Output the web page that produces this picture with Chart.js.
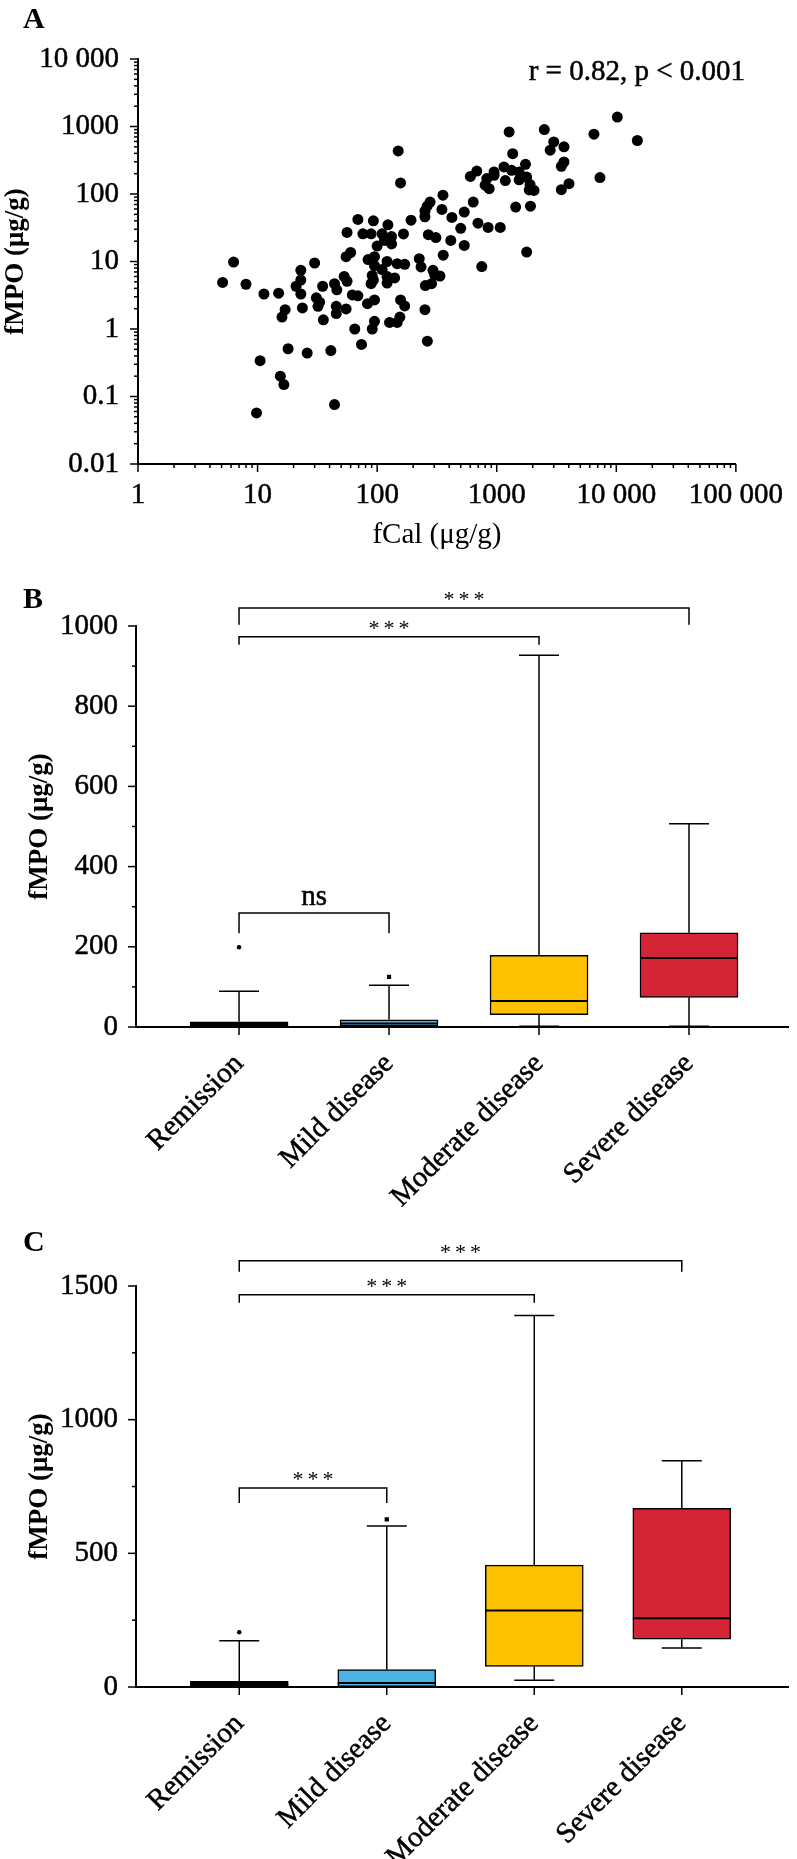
<!DOCTYPE html>
<html><head><meta charset="utf-8">
<script src="https://cdn.jsdelivr.net/npm/chart.js@4.4.1/dist/chart.umd.min.js"></script>
<style>
html,body{margin:0;padding:0;background:#fff;}
#wrap{position:relative;width:797px;height:1859px;background:#fff;}
canvas{position:absolute;left:0;}
</style></head><body>
<div id="wrap">
<canvas id="cA" width="797" height="560" style="top:0;width:797px;height:560px"></canvas>
<canvas id="cB" width="797" height="650" style="top:560px;width:797px;height:650px"></canvas>
<canvas id="cC" width="797" height="649" style="top:1210px;width:797px;height:649px"></canvas>
</div>
<script>
// ---------- Panel A data (fCal vs fMPO, µg/g) ----------
const fCal = [10200,15000,6500,7300,2500,1270,3000,3650,2800,3650,3470,4020,3470,1360,1740,1150,1333,1540,950,1780,
  1540,1180,950,826,681,602,800,865,1900,1870,2050,636,1440,1915,535,697,847,1070,1780,750,
  150,157,355,277,262,251,251,348,422,500,192,166,268,310,357,413,535,69,93,123,
  56,76,89,110,132,132,100,115,55,60,84,95,95,121,147,170,225,233,293,303,
  335,253,285,110,121,140,91,93,89,30,23,23,21,35,44,53,6.3,5.1,8.0,11.3,
  15,157,95,62,69,31,46,23,17,16,23.7,33,32,35.5,45.5,45.5,55,56,83,65,
  91,95,74,127,147,155,170,121,251,263,18,26,41,10.5,15.5,16.6,9.8,44];
const fMPO = [1380,620,770,175,900,830,590,500,445,298,257,142,116,396,275,252,224,212,212,178,
  162,158,189,169,219,182,135,120,138,115,113,76,64,66,54,37,32,32,13.8,8.4,
  434,146,96,76,66,56,46,59,45,31,41,25.6,25,22.6,12.4,20.5,17.3,42,40,35,
  27,25.7,25.7,25.7,23.4,18.2,16.9,20.5,11.8,13.6,10.7,11.8,8.7,10,9.3,9.1,11,8.3,7.4,6.3,
  6.1,4.4,4.7,7.6,6.0,5.7,6.2,5.3,4.7,9.5,7.4,5.3,4.3,4.3,4.7,6.0,9.8,4.9,4.6,3.3,
  3.4,2.7,2.7,3.2,3.1,2.9,3.8,3.3,1.93,1.5,2.05,2.5,2.17,1.37,2.17,1.69,1.98,5.1,2.37,1.0,
  1.0,1.3,0.59,1.25,1.25,1.5,2.2,4.8,1.93,0.66,0.51,0.44,0.48,0.34,0.2,0.15,0.057,0.076];
const logTicksX = [1,10,100,1000,10000,100000];
const logLabelsX = ['1','10','100','1000','10 000','100 000'];
const logTicksY = [0.01,0.1,1,10,100,1000,10000];
const logLabelsY = ['0.01','0.1','1','10','100','1000','10 000'];

// ---------- Panels B and C (box plots) ----------
const categories = ['Remission','Mild disease','Moderate disease','Severe disease'];
const boxColors = ['#000000','#4DB3E6','#FDC100','#D42536'];

const bMin    = [0, 0, 2, 2];
const bQ1     = [1, 2, 31, 74];
const bMedian = [5, 9, 65, 172];
const bQ3     = [13, 18, 179, 235];
const bMax    = [89, 104, 927, 507];
const bOutlierGroup = [0, 1];
const bOutlierValue = [199, 125];
const bTicks = [0,200,400,600,800,1000];
const bMinorTicks = [100,300,500,700,900];
const bBracketFrom = [0,0,0], bBracketTo = [3,2,1];
const bBracketY = [1045,973,284], bBracketEnd = [1003,953,234];
const bBracketLabel = ['***','***','ns'];

const cMin    = [0, 0, 25, 146];
const cQ1     = [1, 1, 77, 179];
const cMedian = [8, 15, 286, 257];
const cQ3     = [21, 65, 456, 668];
const cMax    = [173, 602, 1390, 846];
const cOutlierGroup = [0, 1];
const cOutlierValue = [205, 627];
const cTicks = [0,500,1000,1500];
const cMinorTicks = [250,750,1250];
const cBracketFrom = [0,0,0], cBracketTo = [3,2,1];
const cBracketY = [1594,1467,744], cBracketEnd = [1553,1437,688];
const cBracketLabel = ['***','***','***'];

// ---------- helpers ----------
const SERIF = '"Liberation Serif", "Times New Roman", "DejaVu Serif", serif';
Chart.defaults.font.family = SERIF;
Chart.defaults.color = '#000';
const TICK_FONT = {size:29};
const STROKE = 0.5;

function seg(ctx,x1,y1,x2,y2){ctx.beginPath();ctx.moveTo(x1,y1);ctx.lineTo(x2,y2);ctx.stroke();}
function decadeMinors(majors){const out=[];for(let i=0;i<majors.length-1;i++){for(let m=2;m<=9;m++)out.push(majors[i]*m);}return out;}

function tickPlugin(spec){
  return {id:'tickMarks', afterDraw(chart){
    const {ctx, chartArea:a, scales:{x,y}} = chart;
    ctx.save(); ctx.strokeStyle='#000'; ctx.lineWidth=1.5;
    (spec.yMajor||[]).forEach(v=>{const p=y.getPixelForValue(v); seg(ctx,a.left-8,p,a.left,p);});
    (spec.yMinor||[]).forEach(v=>{const p=y.getPixelForValue(v); seg(ctx,a.left-4,p,a.left,p);});
    (spec.xMajor||[]).forEach(v=>{const p=x.getPixelForValue(v); seg(ctx,p,a.bottom,p,a.bottom+8);});
    (spec.xMinor||[]).forEach(v=>{const p=x.getPixelForValue(v); seg(ctx,p,a.bottom,p,a.bottom+4);});
    ctx.restore();
  }};
}
function textPlugin(items){
  return {id:'panelText', afterDraw(chart){
    const ctx=chart.ctx; ctx.save(); ctx.fillStyle='#000'; ctx.strokeStyle='#000'; ctx.textBaseline='alphabetic';
    items.forEach(t=>{ctx.font=t.font; ctx.textAlign=t.align||'left'; ctx.fillText(t.text,t.x,t.y);
      if(t.stroke){ctx.lineWidth=t.stroke; ctx.strokeText(t.text,t.x,t.y);}});
    ctx.restore();
  }};
}
function boxPlugin(st){
  return {id:'boxWhiskers', afterDatasetsDraw(chart){
    const {ctx, scales:{x,y}} = chart;
    ctx.save(); ctx.strokeStyle='#000';
    st.med.forEach((m,i)=>{
      const cx=x.getPixelForValue(i), half=49, cap=20;
      const pMax=y.getPixelForValue(st.max[i]), pMin=y.getPixelForValue(st.min[i]);
      ctx.lineWidth=1.5;
      seg(ctx,cx,y.getPixelForValue(st.q3[i]),cx,pMax);
      seg(ctx,cx,y.getPixelForValue(st.q1[i]),cx,pMin);
      seg(ctx,cx-cap,pMax,cx+cap,pMax);
      seg(ctx,cx-cap,pMin,cx+cap,pMin);
      ctx.lineWidth=2;
      const pm=y.getPixelForValue(m); seg(ctx,cx-half,pm,cx+half,pm);
    });
    ctx.restore();
  }};
}
function bracketPlugin(br){
  return {id:'brackets', afterDraw(chart){
    const {ctx, scales:{x,y}} = chart;
    ctx.save(); ctx.strokeStyle='#000'; ctx.fillStyle='#000'; ctx.lineWidth=1.5; ctx.textAlign='center';
    br.from.forEach((f,i)=>{
      const x1=x.getPixelForValue(f), x2=x.getPixelForValue(br.to[i]);
      const yl=y.getPixelForValue(br.y[i]), ye=y.getPixelForValue(br.end[i]);
      ctx.beginPath(); ctx.moveTo(x1,ye); ctx.lineTo(x1,yl); ctx.lineTo(x2,yl); ctx.lineTo(x2,ye); ctx.stroke();
      const lab=br.label[i], cx=(x1+x2)/2;
      if(lab==='ns'){ctx.letterSpacing='0px'; ctx.font='29px '+SERIF; ctx.fillText(lab,cx,yl-8);
        ctx.lineWidth=0.5; ctx.strokeText(lab,cx,yl-8); ctx.lineWidth=1.5;}
      else {ctx.letterSpacing='4px'; ctx.font='22px '+SERIF; ctx.fillText(lab,cx+2,yl-2);}
    });
    ctx.restore();
  }};
}
const axisBorder = {display:true,color:'#000',width:2};
const noGrid = {display:false,drawTicks:false};

// ---------- Panel A ----------
new Chart(document.getElementById('cA'), {
  type:'scatter',
  data:{datasets:[{data:fCal.map((v,i)=>({x:v,y:fMPO[i]})), backgroundColor:'#000', borderWidth:0, pointRadius:5.5, pointHoverRadius:5.5}]},
  options:{
    responsive:false, animation:false, devicePixelRatio:1, events:[],
    layout:{padding:{top:59,right:48,left:0,bottom:0}},
    plugins:{legend:{display:false},tooltip:{enabled:false}},
    scales:{
      x:{type:'logarithmic',position:'bottom',min:1,max:100000,offset:false,grid:noGrid,border:axisBorder,
        afterBuildTicks:s=>{s.ticks=logTicksX.map(v=>({value:v}));},
        ticks:{autoSkip:false,maxRotation:0,minRotation:0,padding:14,font:TICK_FONT,textStrokeColor:'#000',textStrokeWidth:STROKE,callback:(v,i)=>logLabelsX[i]},
        title:{display:true,text:'fCal (μg/g)',font:{size:29},padding:{top:0,bottom:7}},
        afterFit:s=>{s.height=96;}},
      y:{type:'logarithmic',position:'left',min:0.01,max:10000,grid:noGrid,border:axisBorder,
        afterBuildTicks:s=>{s.ticks=logTicksY.map(v=>({value:v}));},
        ticks:{autoSkip:false,padding:19,font:TICK_FONT,textStrokeColor:'#000',textStrokeWidth:STROKE,callback:(v,i)=>logLabelsY[i]},
        title:{display:true,text:'fMPO (μg/g)',font:{size:27,weight:'bold'},padding:{top:0,bottom:0}},
        afterFit:s=>{s.width=138;}}
    }
  },
  plugins:[
    tickPlugin({xMajor:logTicksX,xMinor:decadeMinors(logTicksX),yMajor:logTicksY,yMinor:decadeMinors(logTicksY)}),
    textPlugin([{text:'A',x:23,y:28,font:'bold 30px '+SERIF},{text:'r = 0.82, p < 0.001',x:745,y:80,font:'29px '+SERIF,align:'right',stroke:0.5}])
  ]
});

// ---------- box chart factory ----------
function boxChart(id, st, cfg){
  return new Chart(document.getElementById(id), {
    type:'bar',
    data:{datasets:[
      {type:'bar', data:categories.map((c,i)=>({x:i,y:[st.q1[i],st.q3[i]]})), backgroundColor:boxColors,
       borderColor:'#000', borderWidth:1.5, borderSkipped:false, barThickness:98},
      {type:'scatter', data:st.outG.map((g,i)=>({x:g,y:st.outV[i]})), backgroundColor:'#000', borderWidth:0,
       pointStyle:['circle','rect'], pointRadius:[2.3,3], pointHoverRadius:[2.3,3]}
    ]},
    options:{
      responsive:false, animation:false, devicePixelRatio:1, events:[],
      layout:{padding:{top:cfg.padTop,right:cfg.padRight,left:0,bottom:0}},
      plugins:{legend:{display:false},tooltip:{enabled:false}},
      scales:{
        x:{type:'linear',position:'bottom',min:cfg.xMin,max:cfg.xMax,offset:false,grace:0,bounds:'data',grid:noGrid,border:axisBorder,
          afterBuildTicks:s=>{s.ticks=categories.map((c,i)=>({value:i}));},
          ticks:{autoSkip:false,minRotation:45,maxRotation:45,padding:20,font:TICK_FONT,textStrokeColor:'#000',textStrokeWidth:STROKE,callback:v=>categories[v]},
          afterFit:s=>{s.height=cfg.xHeight;}},
        y:{type:'linear',position:'left',min:0,max:cfg.yMax,grid:noGrid,border:axisBorder,
          afterBuildTicks:s=>{s.ticks=cfg.yTicks.map(v=>({value:v}));},
          ticks:{autoSkip:false,padding:18,font:TICK_FONT,textStrokeColor:'#000',textStrokeWidth:STROKE,callback:v=>String(v)},
          title:{display:true,text:'fMPO (μg/g)',font:{size:27,weight:'bold'},padding:{top:24,bottom:0}},
          afterFit:s=>{s.width=cfg.yWidth;}}
      }
    },
    plugins:[
      boxPlugin(st),
      tickPlugin({xMajor:[0,1,2,3],yMajor:cfg.yTicks,yMinor:cfg.yMinor}),
      bracketPlugin(cfg.br),
      textPlugin([{text:cfg.letter,x:23,y:cfg.letterY,font:'bold 30px '+SERIF}])
    ]
  });
}

boxChart('cB', {min:bMin,q1:bQ1,med:bMedian,q3:bQ3,max:bMax,outG:bOutlierGroup,outV:bOutlierValue},
  {padTop:66,padRight:9,xMin:-0.687,xMax:3.66,xHeight:183,yMax:1000,yTicks:bTicks,yMinor:bMinorTicks,yWidth:136,
   letter:'B',letterY:48,
   br:{from:bBracketFrom,to:bBracketTo,y:bBracketY,end:bBracketEnd,label:bBracketLabel}});

boxChart('cC', {min:cMin,q1:cQ1,med:cMedian,q3:cQ3,max:cMax,outG:cOutlierGroup,outV:cOutlierValue},
  {padTop:76,padRight:9,xMin:-0.70,xMax:3.72,xHeight:172,yMax:1500,yTicks:cTicks,yMinor:cMinorTicks,yWidth:136,
   letter:'C',letterY:41,
   br:{from:cBracketFrom,to:cBracketTo,y:cBracketY,end:cBracketEnd,label:cBracketLabel}});
</script>
</body></html>
